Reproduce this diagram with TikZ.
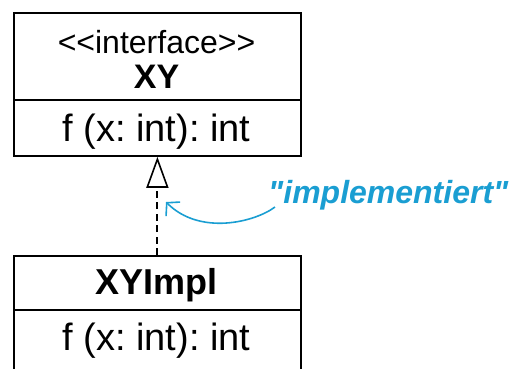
\documentclass[tikz,border=0pt]{standalone}
\usepackage{fontspec}
\setmainfont{Liberation Sans}[Ligatures=TeXOff]
\usetikzlibrary{arrows.meta}
\definecolor{annot}{HTML}{1A9ED2}
\frenchspacing
\tikzset{
  umlbox/.style={draw=black, line width=1.8pt, inner sep=0pt, anchor=north west, minimum width=287pt},
  umlsep/.style={draw=black, line width=1.6pt},
  umltext/.style={anchor=base, inner sep=0pt, font=\fontsize{38}{38}\selectfont},
  umlname/.style={anchor=base, inner sep=0pt, font=\fontsize{34}{34}\selectfont\bfseries},
  stereo/.style={anchor=base, inner sep=0pt, font=\fontsize{32}{32}\selectfont},
  realizes/.style={draw=black, line width=2pt, dash pattern=on 7pt off 4.5pt,
    -{Triangle[open, length=31pt, width=22pt, line width=1.6pt]}},
  annotarrow/.style={draw=annot, line width=1.6pt, -{Straight Barb[length=9pt, width=20pt, line width=1.6pt]}},
  annottext/.style={anchor=base west, inner sep=0pt, text=annot,
    font=\fontsize{32}{32}\selectfont\bfseries\itshape}
}
\begin{document}
\begin{tikzpicture}[x=1pt, y=-1pt]
  \useasboundingbox (0,0) rectangle (515,368);
  \clip (0,0) rectangle (515,368);

  % interface XY
  \node[umlbox, minimum height=143pt] (xy) at (13,12) {};
  \draw[umlsep] ([yshift=-88pt]xy.north west) -- ([yshift=-88pt]xy.north east);
  \node[stereo] (xystereo) at (156.5,53) {<<interface>>};
  \node[umlname] (xyname) at (156.5,88) {XY};
  \node[umltext] (xyop) at (156.5,141) {f (x: int): int};

  % implementing class XYImpl
  \node[umlbox, minimum height=140pt] (impl) at (13,255) {};
  \draw[umlsep] ([yshift=-55pt]impl.north west) -- ([yshift=-55pt]impl.north east);
  \node[umlname, font=\fontsize{36}{36}\selectfont\bfseries] (implname) at (156.5,294) {XYImpl};
  \node[umltext] (implop) at (156.5,350) {f (x: int): int};

  % realization
  \draw[realizes] (impl.north) -- (xy.south);

  % annotation
  \node[annottext] (note) at (268,203) {"implementiert"};
  \coordinate (notetip) at (166,202);
  \draw[annotarrow] ([xshift=7pt,yshift=-4pt]note.base west)
    .. controls (255,222) and (200,236) .. (notetip);
\end{tikzpicture}
\end{document}
